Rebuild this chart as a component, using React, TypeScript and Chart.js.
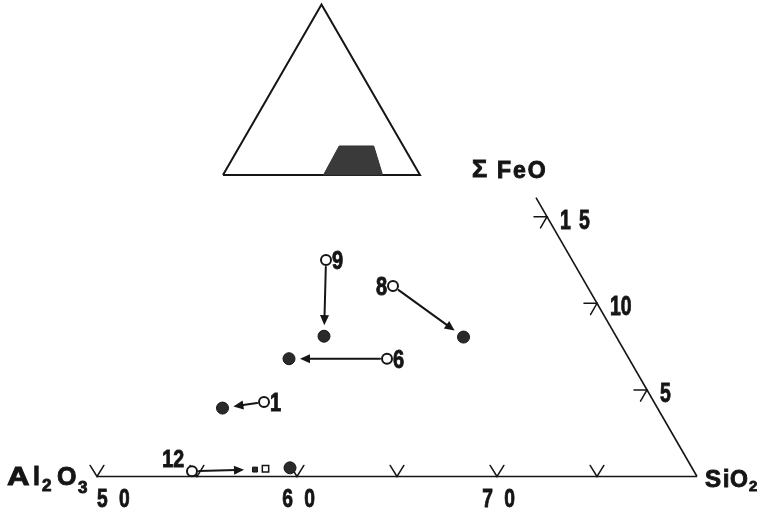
import { useEffect, useRef } from 'react';
import { Chart, registerables } from 'chart.js';

Chart.register(...registerables);

// Compositions are [SiO2 %, ΣFeO %] (Al2O3 is the remainder)
const baseEdge: [number, number][] = [[50, 0], [80, 0]];
const sideEdge: [number, number][] = [[80, 0], [63.9, 16.1]];

const sio2TickValues = [50, 55, 60, 65, 70, 75];
const sio2LabelValues = [50, 60, 70];
const sio2LabelTexts = ['5 0', '6 0', '7 0'];

const feoTickValues = [5, 10, 15];
const feoLabelTexts = ['5', '10', '1 5'];

const sampleIds = ['9', '8', '6', '1', '12'];
const startSiO2 = [55.2, 59.3, 61.1, 56.2, 54.6];
const startFeO = [12.5, 11.0, 6.8, 4.3, 0.3];
const endSiO2 = [57.3, 64.3, 56.2, 54.3, 57.7];
const endFeO = [8.1, 8.05, 6.8, 3.95, 0.4];
const endMarker = ['circle', 'circle', 'circle', 'circle', 'square'];

const extraOpenSquare: [number, number][] = [[58.2, 0.45]];
const extraFilledCircle: [number, number][] = [[59.4, 0.5]];

// inset: whole ternary and the enlarged field (in % of the full triangle)
const insetTriangle: [number, number][] = [[0, 0], [100, 0], [0, 100], [0, 0]];
const insetField: [number, number][] = [[51, 0], [81, 0], [68, 17], [50.5, 17], [51, 0]];

// ---- layout / style constants ----
const W = 757;
const H = 516;
const X_MIN = 45.15;
const X_MAX = 83.0;
const Y_MIN = -1.975;
const Y_MAX = 23.825;
const INSET_X0 = 56.3;
const INSET_Y0 = 15.075;
const INSET_SIDE = 9.85;
const INK = '#151515';
const FONT = "'Liberation Sans', Arial, sans-serif";
const labelSide = ['right', 'left', 'right', 'right', 'upleft'];

const S3 = Math.sqrt(3) / 2;
const tern = (s: number, f: number) => ({ x: s + f / 2, y: f * S3 });
const insetXY = (s: number, f: number) => ({
  x: INSET_X0 + (INSET_SIDE * (s + f / 2)) / 100,
  y: INSET_Y0 + (INSET_SIDE * f * S3) / 100,
});

function drawText(
  ctx: CanvasRenderingContext2D,
  t: string,
  x: number,
  baseline: number,
  size: number,
  align: CanvasTextAlign = 'left',
  sx = 1,
  spacing = 0
) {
  ctx.save();
  ctx.translate(x, baseline);
  ctx.scale(sx, 1);
  ctx.font = `bold ${size}px ${FONT}`;
  (ctx as any).letterSpacing = `${spacing}px`;
  ctx.textAlign = align;
  ctx.textBaseline = 'alphabetic';
  ctx.fillStyle = INK;
  ctx.strokeStyle = INK;
  ctx.lineWidth = 0.9;
  ctx.fillText(t, 0, 0);
  ctx.strokeText(t, 0, 0);
  ctx.restore();
}

function arrow(ctx: CanvasRenderingContext2D, a: { x: number; y: number }, b: { x: number; y: number }, g0: number, g1: number) {
  const dx = b.x - a.x;
  const dy = b.y - a.y;
  const len = Math.hypot(dx, dy);
  const ux = dx / len;
  const uy = dy / len;
  const sx = a.x + ux * g0;
  const sy = a.y + uy * g0;
  const tx = b.x - ux * g1;
  const ty = b.y - uy * g1;
  const hl = 10;
  const hw = 4.5;
  const bx = tx - ux * hl;
  const by = ty - uy * hl;
  ctx.beginPath();
  ctx.moveTo(sx, sy);
  ctx.lineTo(bx + ux * 2, by + uy * 2);
  ctx.lineWidth = 2;
  ctx.strokeStyle = INK;
  ctx.stroke();
  ctx.beginPath();
  ctx.moveTo(tx, ty);
  ctx.lineTo(bx - uy * hw, by + ux * hw);
  ctx.lineTo(bx + uy * hw, by - ux * hw);
  ctx.closePath();
  ctx.fillStyle = INK;
  ctx.fill();
}

const ternaryPlugin = {
  id: 'ternaryDecor',
  beforeDatasetsDraw(chart: any) {
    const { ctx } = chart;
    const xs = chart.scales.x;
    const ys = chart.scales.y;
    const P = (s: number, f: number) => {
      const p = tern(s, f);
      return { x: xs.getPixelForValue(p.x), y: ys.getPixelForValue(p.y) };
    };
    ctx.save();
    ctx.strokeStyle = INK;
    ctx.lineWidth = 1.5;
    ctx.lineCap = 'round';
    const L = 13;
    sio2TickValues.forEach((v) => {
      const p = P(v, 0);
      ctx.beginPath();
      ctx.moveTo(p.x + L * Math.cos((122 * Math.PI) / 180), p.y - L * Math.sin((122 * Math.PI) / 180));
      ctx.lineTo(p.x, p.y);
      ctx.lineTo(p.x + L * Math.cos((58 * Math.PI) / 180), p.y - L * Math.sin((58 * Math.PI) / 180));
      ctx.stroke();
    });
    feoTickValues.forEach((v) => {
      const p = P(80 - v, v);
      ctx.beginPath();
      ctx.moveTo(p.x - L, p.y);
      ctx.lineTo(p.x, p.y);
      ctx.lineTo(p.x - L * 0.5, p.y + L * S3);
      ctx.stroke();
    });
    sampleIds.forEach((_, i) => {
      const a = P(startSiO2[i], startFeO[i]);
      const b = P(endSiO2[i], endFeO[i]);
      arrow(ctx, a, b, 7, 11);
    });
    ctx.restore();
  },
  afterDatasetsDraw(chart: any) {
    const { ctx } = chart;
    const xs = chart.scales.x;
    const ys = chart.scales.y;
    const P = (s: number, f: number) => {
      const p = tern(s, f);
      return { x: xs.getPixelForValue(p.x), y: ys.getPixelForValue(p.y) };
    };
    sio2LabelValues.forEach((v, i) => {
      const p = P(v, 0);
      if (i === 0) drawText(ctx, sio2LabelTexts[i], p.x, p.y + 30, 26, 'left', 0.74, 4);
      else drawText(ctx, sio2LabelTexts[i], p.x + 3, p.y + 30, 26, 'center', 0.74, 4);
    });
    feoTickValues.forEach((v, i) => {
      const p = P(80 - v, v);
      drawText(ctx, feoLabelTexts[i], p.x + 13, p.y + 12, 27, 'left', 0.72, feoLabelTexts[i].includes(' ') ? 2 : 0);
    });
    sampleIds.forEach((id, i) => {
      const p = P(startSiO2[i], startFeO[i]);
      const side = labelSide[i];
      if (side === 'right') drawText(ctx, id, p.x + 6, p.y + 9, 25, 'left', 0.8);
      else if (side === 'left') drawText(ctx, id, p.x - 6, p.y + 9, 25, 'right', 0.8);
      else drawText(ctx, id, p.x - 8, p.y - 4, 23, 'right', 0.85);
    });
    const a = P(50, 0);
    const by = a.y;
    drawText(ctx, 'A', a.x - 90, by + 8, 25, 'left', 1.25);
    drawText(ctx, 'l', a.x - 64, by + 8, 25, 'left', 1);
    drawText(ctx, '2', a.x - 55, by + 14, 17, 'left', 1);
    drawText(ctx, 'O', a.x - 40, by + 8, 25, 'left', 1);
    drawText(ctx, '3', a.x - 19, by + 16, 17, 'left', 1);
    const s = P(80, 0);
    drawText(ctx, 'S', s.x + 8, by + 10, 23, 'left', 1.05);
    drawText(ctx, 'i', s.x + 26, by + 10, 23, 'left', 1);
    drawText(ctx, 'O', s.x + 33, by + 10, 23, 'left', 1);
    drawText(ctx, '2', s.x + 52, by + 14, 15, 'left', 1);
    const top = P(sideEdge[1][0], sideEdge[1][1]);
    drawText(ctx, 'Σ', top.x - 64, top.y - 21, 24, 'left', 1.05);
    drawText(ctx, 'FeO', top.x - 39, top.y - 20, 23, 'left', 1, 2);
  },
};

export default function App() {
  const ref = useRef<HTMLCanvasElement | null>(null);
  useEffect(() => {
    if (!ref.current) return;
    const line = (pts: { x: number; y: number }[], width: number) => ({
      type: 'scatter' as const,
      data: pts,
      showLine: true,
      borderColor: INK,
      borderWidth: width,
      pointRadius: 0,
      fill: false,
    });
    const chart = new Chart(ref.current, {
      type: 'scatter',
      data: {
        datasets: [
          {
            type: 'scatter',
            data: insetField.map(([s, f]) => insetXY(s, f)),
            showLine: true,
            borderColor: '#333',
            borderWidth: 1,
            backgroundColor: '#3a3a3a',
            fill: 'shape',
            pointRadius: 0,
          } as any,
          line(insetTriangle.map(([s, f]) => insetXY(s, f)), 2),
          line(baseEdge.map(([s, f]) => tern(s, f)), 1.6),
          line(sideEdge.map(([s, f]) => tern(s, f)), 1.6),
          {
            data: startSiO2.map((s, i) => tern(s, startFeO[i])),
            pointStyle: 'circle',
            pointRadius: 5,
            backgroundColor: '#fff',
            borderColor: INK,
            borderWidth: 2,
          },
          {
            data: endSiO2
              .map((s, i) => ({ s, f: endFeO[i], m: endMarker[i] }))
              .filter((d) => d.m === 'circle')
              .map((d) => tern(d.s, d.f))
              .concat(extraFilledCircle.map(([s, f]) => tern(s, f))),
            pointStyle: 'circle',
            pointRadius: 6,
            backgroundColor: '#2a2a2a',
            borderColor: INK,
            borderWidth: 1,
          },
          {
            data: endSiO2
              .map((s, i) => ({ s, f: endFeO[i], m: endMarker[i] }))
              .filter((d) => d.m === 'square')
              .map((d) => tern(d.s, d.f)),
            pointStyle: 'rect',
            pointRadius: 3.5,
            backgroundColor: '#2a2a2a',
            borderColor: INK,
            borderWidth: 1,
          },
          {
            data: extraOpenSquare.map(([s, f]) => tern(s, f)),
            pointStyle: 'rect',
            pointRadius: 4.5,
            backgroundColor: '#fff',
            borderColor: INK,
            borderWidth: 1.5,
          },
        ],
      },
      options: {
        responsive: false,
        animation: false,
        events: [],
        layout: { padding: 0, autoPadding: false },
        plugins: { legend: { display: false }, tooltip: { enabled: false } },
        scales: {
          x: { type: 'linear', min: X_MIN, max: X_MAX, display: false },
          y: { type: 'linear', min: Y_MIN, max: Y_MAX, display: false },
        },
      },
      plugins: [ternaryPlugin],
    });
    return () => chart.destroy();
  }, []);
  return (
    <div style={{ position: 'absolute', left: 0, top: 0, width: W, height: H, background: '#fff' }}>
      <canvas ref={ref} width={W} height={H} style={{ display: 'block', width: W, height: H }} />
    </div>
  );
}
